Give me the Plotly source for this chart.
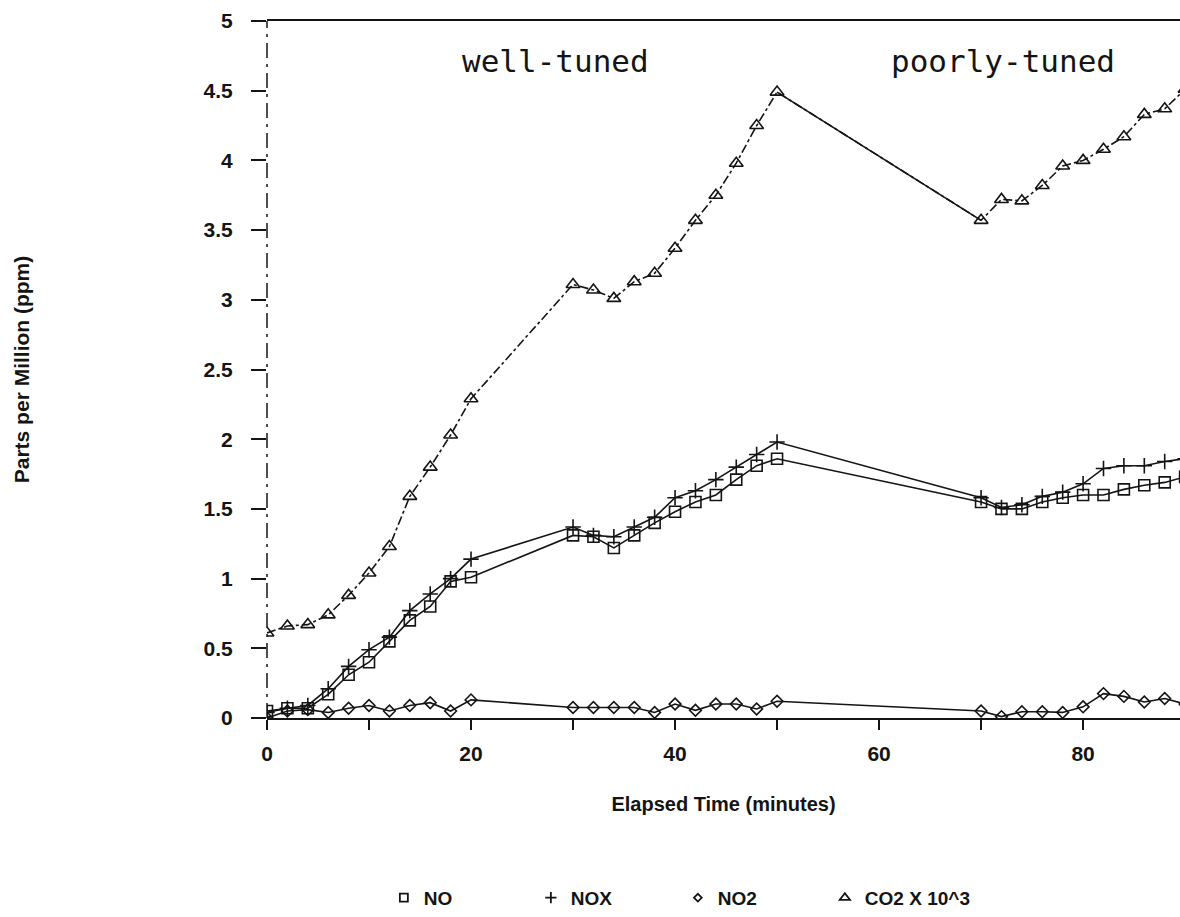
import plotly.graph_objects as go

# ---- data ----
minutes = [0, 2, 4, 6, 8, 10, 12, 14, 16, 18, 20,
           30, 32, 34, 36, 38, 40, 42, 44, 46, 48, 50,
           70, 72, 74, 76, 78, 80, 82, 84, 86, 88, 90]

no_ppm = [0.05, 0.07, 0.07, 0.17, 0.31, 0.40, 0.55, 0.70, 0.80, 0.98, 1.01,
          1.31, 1.30, 1.22, 1.31, 1.40, 1.48, 1.55, 1.60, 1.71, 1.81, 1.86,
          1.55, 1.50, 1.50, 1.55, 1.58, 1.60, 1.60, 1.64, 1.67, 1.69, 1.73]

nox_ppm = [0.04, 0.07, 0.09, 0.21, 0.37, 0.49, 0.58, 0.77, 0.89, 1.00, 1.14,
           1.37, 1.31, 1.30, 1.37, 1.44, 1.58, 1.63, 1.71, 1.80, 1.89, 1.98,
           1.58, 1.51, 1.53, 1.59, 1.62, 1.68, 1.79, 1.81, 1.81, 1.84, 1.86]

no2_ppm = [0.00, 0.05, 0.06, 0.04, 0.07, 0.09, 0.05, 0.09, 0.11, 0.05, 0.13,
           0.075, 0.075, 0.075, 0.075, 0.04, 0.10, 0.055, 0.10, 0.10, 0.065, 0.12,
           0.05, 0.01, 0.045, 0.045, 0.04, 0.08, 0.175, 0.155, 0.115, 0.14, 0.10]

co2_scaled = [0.61, 0.66, 0.67, 0.74, 0.88, 1.04, 1.23, 1.59, 1.80, 2.03, 2.29,
              3.11, 3.07, 3.01, 3.13, 3.19, 3.37, 3.57, 3.75, 3.98, 4.25, 4.49,
              3.57, 3.72, 3.71, 3.82, 3.96, 4.00, 4.08, 4.17, 4.33, 4.37, 4.51]

series_names = ["NO", "NOX", "NO2", "CO2 X 10^3"]
x_tick_vals = [0, 10, 20, 30, 40, 50, 60, 70, 80]
x_tick_text = ["0", "", "20", "", "40", "", "60", "", "80"]
y_tick_vals = [0, 0.5, 1, 1.5, 2, 2.5, 3, 3.5, 4, 4.5, 5]
y_tick_text = ["0", "0.5", "1", "1.5", "2", "2.5", "3", "3.5", "4", "4.5", "5"]
annotation_texts = ["well-tuned", "poorly-tuned"]

INK = "#141414"
BOLD = dict(family="Liberation Sans, Arial, sans-serif", color=INK, weight="bold")

fig = go.Figure()

# solid connection between the two CO2 test runs (50 -> 70 minutes)
i50 = minutes.index(50)
i70 = minutes.index(70)
fig.add_trace(go.Scatter(
    x=minutes[i50:i70 + 1], y=co2_scaled[i50:i70 + 1], mode="lines",
    line=dict(color=INK, width=1.6), showlegend=False, hoverinfo="skip"))

specs = [
    (no_ppm, "square-open", 11, "solid"),
    (nox_ppm, "cross-thin-open", 11, "solid"),
    (no2_ppm, "diamond-open", 9, "solid"),
    (co2_scaled, "triangle-up-open", 12, "dashdot"),
]
for (vals, sym, size, dash), name in zip(specs, series_names):
    fig.add_trace(go.Scatter(
        x=minutes, y=vals, mode="lines+markers", name=name,
        line=dict(color=INK, width=1.6, dash=dash),
        marker=dict(symbol=sym, size=size, color=INK,
                    line=dict(color=INK, width=1.6)),
        showlegend=False))
    # marker-only legend entry
    fig.add_trace(go.Scatter(
        x=[None], y=[None], mode="markers", name=name,
        marker=dict(symbol=sym, size=size - 3, color=INK,
                    line=dict(color=INK, width=1.8))))

fig.add_annotation(x=28.3, y=4.71, xref="x", yref="y", text=annotation_texts[0],
                   showarrow=False,
                   font=dict(family="DejaVu Sans Mono, monospace", size=31, color=INK))
fig.add_annotation(x=72.1, y=4.71, xref="x", yref="y", text=annotation_texts[1],
                   showarrow=False,
                   font=dict(family="DejaVu Sans Mono, monospace", size=31, color=INK))

# dash-dot left axis line
fig.add_shape(type="line", xref="paper", yref="paper", x0=0, x1=0, y0=0, y1=1,
              line=dict(color=INK, width=1.5, dash="longdashdot"))

fig.update_layout(
    width=1180, height=917,
    margin=dict(l=267, r=0, t=21, b=199, autoexpand=False),
    paper_bgcolor="white", plot_bgcolor="white",
    showlegend=True,
    legend=dict(orientation="h", x=0.128, xanchor="left", y=-0.258, yanchor="middle",
                font=dict(size=19, **BOLD), entrywidth=102, entrywidthmode="pixels",
                bgcolor="rgba(0,0,0,0)"),
    xaxis=dict(range=[0, 89.5], tickmode="array", tickvals=x_tick_vals,
               ticktext=x_tick_text, ticks="outside", ticklen=10, tickwidth=1.5,
               tickcolor=INK, showline=True, linecolor=INK, linewidth=1.5,
               mirror=True, showgrid=False, zeroline=False,
               tickfont=dict(size=21, **BOLD), ticklabelstandoff=6,
               title=dict(text="Elapsed Time (minutes)", font=dict(size=20, **BOLD),
                          standoff=33)),
    yaxis=dict(range=[0, 5], tickmode="array", tickvals=y_tick_vals,
               ticktext=y_tick_text, ticks="outside", ticklen=15, tickwidth=1.5,
               tickcolor=INK, showline=False, showgrid=False, zeroline=False,
               tickfont=dict(size=21, **BOLD), ticklabelstandoff=14,
               title=dict(text="Parts per Million (ppm)", font=dict(size=21, **BOLD),
                          standoff=168)),
)

fig.write_html("out.html")
